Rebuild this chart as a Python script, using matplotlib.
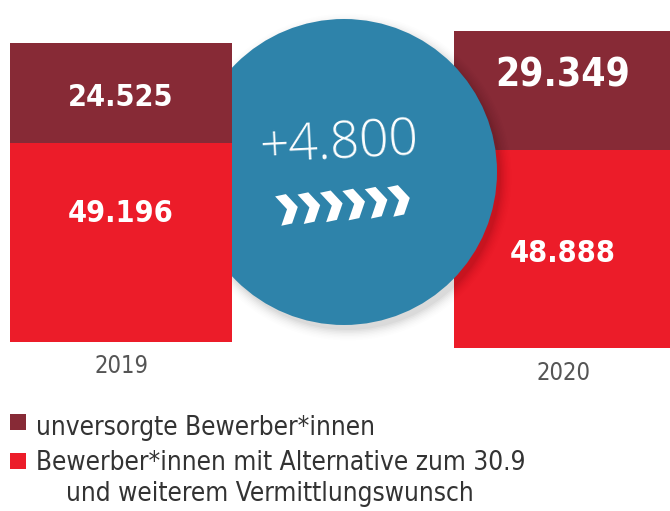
import matplotlib
matplotlib.use("Agg")
import matplotlib.pyplot as plt
from matplotlib.patches import Ellipse, Polygon, Rectangle
import numpy as np

# Daten
years = ["2019", "2020"]
unversorgt = [24525, 29349]
alternative = [49196, 48888]
change_label = "+4.800"
legend_labels = ["unversorgte Bewerber*innen",
                 "Bewerber*innen mit Alternative zum 30.9",
                 "und weiterem Vermittlungswunsch"]

DARK = "#872A36"
RED = "#EC1C29"
BLUE = "#2E83AA"

W, H = 670, 511
S = 0.00405          # Pixel pro Bewerber*in
Y0 = 342             # Grundlinie 2019 in Pixel


def py(p):
    # Pixelzeile -> Datenwert
    return (Y0 - p) / S


fig = plt.figure(figsize=(W / 100, H / 100), dpi=100)
ax = fig.add_axes([0, 0, 1, 1])
ax.set_xlim(0, W)
ax.set_ylim(py(H), py(0))
ax.axis("off")

xpos = [121, 565]
bottoms = [py(342), py(348)]
width = 222
z = [5, 1]   # 2019 liegt über dem Kreis, 2020 darunter

for i in range(2):
    ax.bar(xpos[i], alternative[i], width=width, bottom=bottoms[i], color=RED, zorder=z[i])
    ax.bar(xpos[i], unversorgt[i], width=width, bottom=bottoms[i] + alternative[i],
           color=DARK, zorder=z[i])

lab = lambda v: f"{v:,}".replace(",", ".")
num = dict(color="white", fontweight="bold", ha="center", va="center",
           family="DejaVu Sans", fontstretch="condensed", zorder=6)
ax.text(xpos[0], py(97), lab(unversorgt[0]), fontsize=22, **num)
ax.text(xpos[0], py(213), lab(alternative[0]), fontsize=22, **num)
ax.text(xpos[1] - 2, py(76), lab(unversorgt[1]), fontsize=28, **num)
ax.text(xpos[1] - 2, py(254), lab(alternative[1]), fontsize=22, **num)

yr = dict(color="#555555", fontsize=17, ha="center", va="center",
          family="DejaVu Sans", fontstretch="condensed")
ax.text(xpos[0], py(366), years[0], **yr)
ax.text(xpos[1] - 2, py(373), years[1], **yr)

# Kreis mit Schatten
cx, cy, r = 344, 172, 153
for k, a in enumerate(np.linspace(0.03, 0.006, 8)):
    d = 2 * (r + k * 1.5)
    ax.add_patch(Ellipse((cx + 4, py(cy + 5)), d, d / S, color="black", alpha=a,
                         lw=0, zorder=2))
ax.add_patch(Ellipse((cx, py(cy)), 2 * r, 2 * r / S, color=BLUE, lw=0, zorder=3))

ax.text(339, py(145), change_label, color="white", fontsize=37, fontweight="light",
        ha="center", va="center", rotation=3, family=["Open Sans", "DejaVu Sans"],
        zorder=4)

# Pfeile
for i in range(6):
    x0 = 288 + i * 22.4
    y0 = 209 - i * 1.8
    w, h, t = 20, 30, 11
    pts = np.array([[-w / 2, -h / 2], [-w / 2 + t, -h / 2], [w / 2, 0],
                    [-w / 2 + t, h / 2], [-w / 2, h / 2], [w / 2 - t, 0]])
    ang = np.deg2rad(-12)
    rot = np.array([[np.cos(ang), -np.sin(ang)], [np.sin(ang), np.cos(ang)]])
    pts = pts @ rot.T
    pts[:, 0] += x0
    pts[:, 1] = py(y0 + pts[:, 1])
    ax.add_patch(Polygon(pts, closed=True, color="white", lw=0, zorder=4))

# Legende
leg = dict(color="#333333", fontsize=18.8, ha="left", va="center",
           family="DejaVu Sans", fontstretch="condensed")
ax.add_patch(Rectangle((10, py(430)), 16, 16 / S, color=DARK, lw=0))
ax.add_patch(Rectangle((10, py(469)), 16, 16 / S, color=RED, lw=0))
ax.text(36, py(428), legend_labels[0], **leg)
ax.text(36, py(463), legend_labels[1], **leg)
ax.text(66, py(494), legend_labels[2], **leg)

fig.savefig("out.png", dpi=100)
